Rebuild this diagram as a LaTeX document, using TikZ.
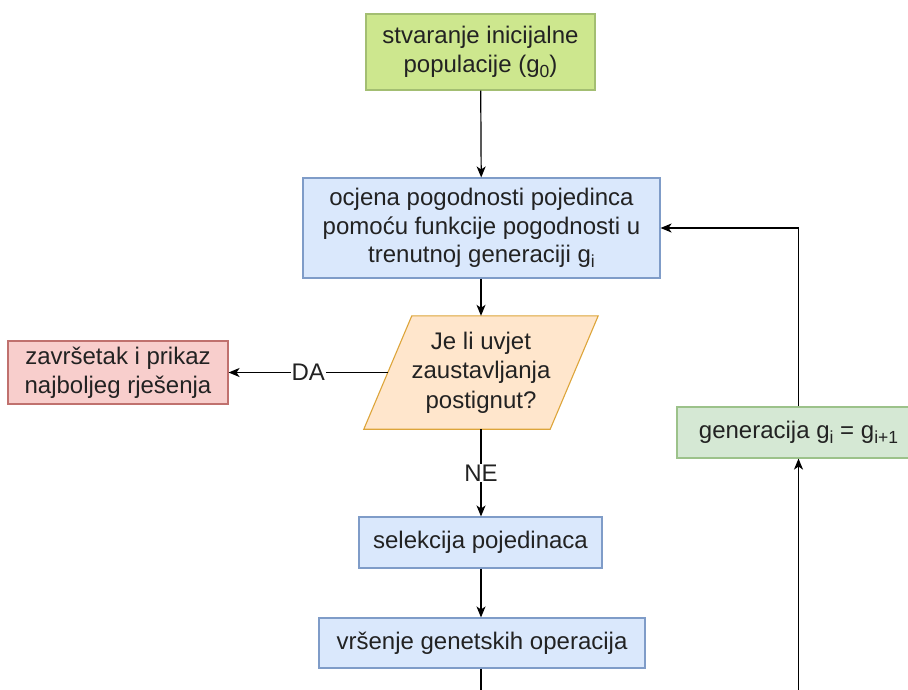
\documentclass[tikz,border=0pt]{standalone}
\usepackage{fontspec}
\setmainfont{Liberation Sans}
\usetikzlibrary{arrows.meta,calc,backgrounds}
\definecolor{initfill}{HTML}{CDE78E}
\definecolor{initdraw}{HTML}{A3BE72}
\definecolor{bluefill}{HTML}{DAE8FC}
\definecolor{bluedraw}{HTML}{7F9CC8}
\definecolor{orfill}{HTML}{FFE6CC}
\definecolor{ordraw}{HTML}{DDA53A}
\definecolor{redfill}{HTML}{F8CECC}
\definecolor{reddraw}{HTML}{C0716E}
\definecolor{grfill}{HTML}{D5E8D4}
\definecolor{grdraw}{HTML}{9CC28A}
\definecolor{txt}{HTML}{222222}
\newcommand\mysub[1]{\raisebox{-5pt}{\fontsize{17.5}{17.5}\selectfont #1}}
\tikzset{
  box/.style={draw, line width=1.1pt, align=center, inner sep=0pt,
    text=txt, font=\fontsize{24}{28.5}\selectfont},
  initbox/.style={box, fill=initfill, draw=initdraw},
  bluebox/.style={box, fill=bluefill, draw=bluedraw},
  redbox/.style={box, fill=redfill, draw=reddraw},
  greenbox/.style={box, fill=grfill, draw=grdraw},
  condtext/.style={align=center, inner sep=0pt, text=txt,
    font=\fontsize{24}{29.5}\selectfont},
  condshape/.style={fill=orfill, draw=ordraw, line width=1.1pt},
  conn/.style={line width=1.2pt, draw=black, -{Stealth[length=11pt,width=9pt,inset=3pt]}},
  plain/.style={line width=1.2pt, draw=black},
  lbl/.style={fill=white, inner sep=1pt, text=txt, font=\fontsize{24}{28.5}\selectfont}
}
\begin{document}
\begin{tikzpicture}[x=1pt,y=-1pt]
\path[use as bounding box, clip] (0,0) rectangle (908,689);

\node[initbox, minimum width=229pt, minimum height=76pt] (init) at (480.5,52)
  {stvaranje inicijalne\\populacije (g\mysub{0})};
\node[bluebox, minimum width=357pt, minimum height=100pt] (eval) at (481.5,228)
  {ocjena pogodnosti pojedinca\\pomoću funkcije pogodnosti u\\trenutnoj generaciji g\mysub{i}};
\node[condtext, minimum width=234pt, minimum height=113pt] (cond) at (481,372.5)
  {Je li uvjet\\zaustavljanja\\postignut?};
\begin{scope}[on background layer]
  \fill[white] (0,0) rectangle (908,689);
  \draw[condshape] ($(cond.north west)+(48,0)$) -- (cond.north east)
    -- ($(cond.south east)+(-48,0)$) -- (cond.south west) -- cycle;
\end{scope}
\coordinate (condL) at ($(cond.west)+(24,0)$);
\node[redbox, minimum width=220pt, minimum height=63pt] (stop) at (118,372.5)
  {završetak i prikaz\\najboljeg rješenja};
\node[bluebox, minimum width=243pt, minimum height=51pt] (sel) at (480.5,542.5)
  {selekcija pojedinaca};
\node[bluebox, minimum width=326pt, minimum height=50pt] (vrs) at (482,643)
  {vršenje genetskih operacija};
\node[greenbox, minimum width=243pt, minimum height=51pt] (gen) at (798.5,432.5)
  {generacija g\mysub{i} = g\mysub{i+1}};

\coordinate (vrsOut) at (482,700);
\coordinate (genIn) at (798.5,700);

\draw[conn] (init) -- (eval);
\draw[conn] (eval.south -| cond.north) -- (cond.north);
\draw[conn] (condL) -- node[lbl] {DA} (stop);
\draw[conn] (cond.south) -- node[lbl] {NE} (sel.north -| cond.south);
\draw[conn] (sel.south -| cond.south) -- (vrs.north -| cond.south);
\draw[plain] (vrs.south -| cond.south) -- (vrsOut -| cond.south);
\draw[conn] (genIn) -- (gen.south);
\draw[conn] (gen.north) |- (eval.east);
\end{tikzpicture}
\end{document}
